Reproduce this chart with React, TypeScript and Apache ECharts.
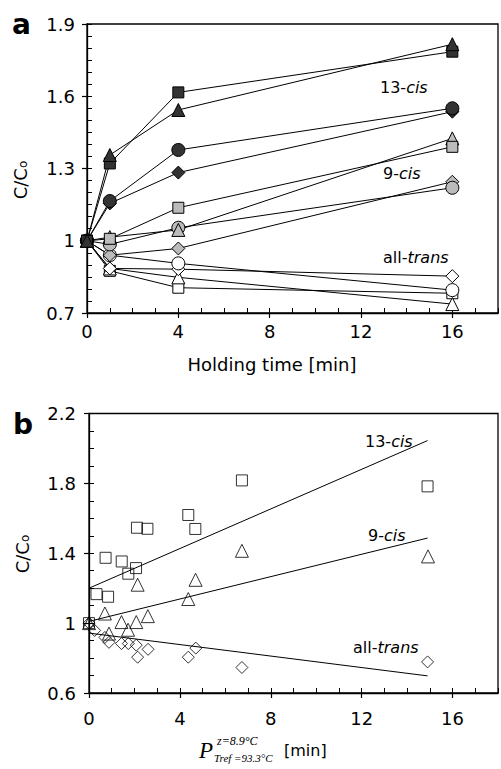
import React, { useEffect, useRef } from "react";
import * as echarts from "echarts";

// ---------- Panel a: C/Co vs holding time ----------
const timesA = [0, 1, 4, 16];
// 13-cis (dark markers)
const darkTriangle = [1, 1.356, 1.543, 1.816];
const darkSquare = [1, 1.321, 1.616, 1.785];
const darkCircle = [1, 1.165, 1.377, 1.55];
const darkDiamond = [1, 1.155, 1.283, 1.536];
// 9-cis (grey markers)
const greySquare = [1, 1.008, 1.137, 1.39];
const greyTriangle = [1, 1.015, 1.045, 1.425];
const greyCircle = [1, 0.985, 1.054, 1.22];
const greyDiamond = [1, 0.94, 0.968, 1.245];
// all-trans (white markers)
const whiteCircle = [1, 0.94, 0.906, 0.795];
const whiteDiamond = [1, 0.885, 0.882, 0.853];
const whiteTriangle = [1, 0.885, 0.848, 0.737];
const whiteSquare = [1, 0.875, 0.805, 0.782];

const xTicksA = [0, 18, 4];
const yTicksA = [0.7, 1.9, 0.3];

// ---------- Panel b: C/Co vs equivalent time ----------
const sqX = [0, 0.33, 0.84, 0.73, 1.44, 1.73, 2.07, 2.11, 2.57, 4.37, 4.68, 6.73, 14.9];
const sqY = [1.0, 1.166, 1.151, 1.374, 1.353, 1.283, 1.315, 1.546, 1.54, 1.619, 1.539, 1.817, 1.783];
const triX = [0, 0.7, 0.88, 1.43, 1.72, 2.08, 2.14, 2.59, 4.37, 4.69, 6.73, 14.92];
const triY = [1.0, 1.055, 0.94, 1.006, 0.962, 1.006, 1.22, 1.04, 1.138, 1.248, 1.414, 1.382];
const diaX = [0, 0.25, 0.7, 0.88, 1.43, 1.73, 2.08, 2.14, 2.6, 4.37, 4.7, 6.73, 14.9];
const diaY = [1.0, 0.958, 0.918, 0.89, 0.883, 0.883, 0.874, 0.805, 0.85, 0.805, 0.857, 0.746, 0.778];
const fit13 = [[0, 1.2], [14.9, 2.045]];
const fit9 = [[0, 1.01], [14.9, 1.487]];
const fitTrans = [[0, 0.943], [14.9, 0.698]];

const xTicksB = [0, 18, 4];
const yTicksB = [0.6, 2.2, 0.4];

const SANS = "'DejaVu Sans', sans-serif";
const SERIF = "'Liberation Serif', 'DejaVu Serif', serif";
const DARK = "#333333";
const GREY = "#bbbbbb";

function zip(xs: number[], ys: number[]) {
  return xs.map((x, i) => [x, ys[i]]);
}

function lineSeries(ys: number[], symbol: string, size: number, fill: string) {
  return {
    type: "line",
    xAxisIndex: 0,
    yAxisIndex: 0,
    data: zip(timesA, ys),
    symbol,
    symbolSize: size,
    showAllSymbol: true,
    lineStyle: { color: "#000", width: 1 },
    itemStyle: { color: fill, borderColor: "#000", borderWidth: 1 },
    emphasis: { disabled: true },
    silent: true,
    z: 3,
  };
}

function scatterSeries(xs: number[], ys: number[], symbol: string, size: number) {
  return {
    type: "scatter",
    xAxisIndex: 2,
    yAxisIndex: 2,
    data: zip(xs, ys),
    symbol,
    symbolSize: size,
    itemStyle: { color: "rgba(255,255,255,0)", borderColor: "#000", borderWidth: 1 },
    silent: true,
    z: 3,
  };
}

function fitSeries(pts: number[][]) {
  return {
    type: "line",
    xAxisIndex: 2,
    yAxisIndex: 2,
    data: pts,
    symbol: "none",
    lineStyle: { color: "#000", width: 1 },
    silent: true,
    z: 2,
  };
}

function mainAxis(ticks: number[], grid: number, pos: string, margin: number) {
  return {
    type: "value",
    gridIndex: grid,
    position: pos,
    min: ticks[0],
    max: ticks[1],
    interval: ticks[2],
    axisLine: { show: true, onZero: false, lineStyle: { color: "#000", width: 1.3 } },
    axisTick: { show: true, inside: false, length: 5, lineStyle: { color: "#000", width: 1.2 } },
    axisLabel: {
      show: true,
      showMaxLabel: pos === "left",
      margin,
      color: "#000",
      fontSize: 18,
      fontFamily: SANS,
    },
    splitLine: { show: false },
  };
}

function minorAxis(ticks: number[], step: number, grid: number, pos: string) {
  return {
    type: "value",
    gridIndex: grid,
    position: pos,
    min: ticks[0],
    max: ticks[1],
    interval: step,
    axisLine: { show: false, onZero: false },
    axisTick: { show: true, inside: true, length: 5, lineStyle: { color: "#000", width: 1 } },
    axisLabel: { show: false },
    splitLine: { show: false },
  };
}

function richLabel(x: number, y: number, pre: string, it: string) {
  return {
    type: "text",
    x,
    y,
    silent: true,
    style: {
      text: pre + "{i|" + it + "}",
      fontSize: 16,
      fontFamily: SANS,
      fill: "#000",
      verticalAlign: "middle",
      rich: { i: { fontStyle: "italic", fontSize: 16, fontFamily: SANS, fill: "#000" } },
    },
  };
}

function yTitle(x: number, y: number) {
  return {
    type: "text",
    x,
    y,
    rotation: Math.PI / 2,
    silent: true,
    style: {
      text: "{m|C/C}{s|o}",
      align: "center",
      verticalAlign: "middle",
      fill: "#000",
      rich: {
        m: { fontSize: 18, fontFamily: SANS, lineHeight: 22, verticalAlign: "bottom", fill: "#000" },
        s: { fontSize: 12, fontFamily: SANS, lineHeight: 12, verticalAlign: "bottom", fill: "#000" },
      },
    },
  };
}

export default function App() {
  const ref = useRef<HTMLDivElement>(null);
  useEffect(() => {
    if (!ref.current) return;
    const chart = echarts.init(ref.current, undefined, { renderer: "svg" });
    const option: any = {
      animation: false,
      backgroundColor: "#fff",
      grid: [
        { left: 87, top: 24, right: 3, bottom: 456, show: true, borderColor: "#000", borderWidth: 1.3, backgroundColor: "transparent" },
        { left: 89, top: 413.5, right: 3, bottom: 76, show: true, borderColor: "#000", borderWidth: 1.3, backgroundColor: "transparent" },
      ],
      xAxis: [
        mainAxis(xTicksA, 0, "bottom", 9),
        minorAxis(xTicksA, 1, 0, "bottom"),
        mainAxis(xTicksB, 1, "bottom", 16),
        minorAxis(xTicksB, 1, 1, "bottom"),
      ],
      yAxis: [
        mainAxis(yTicksA, 0, "left", 12),
        minorAxis(yTicksA, 0.05, 0, "left"),
        mainAxis(yTicksB, 1, "left", 13),
        minorAxis(yTicksB, 0.1, 1, "left"),
      ],
      series: [
        lineSeries(whiteSquare, "rect", 11, "#fff"),
        lineSeries(whiteTriangle, "triangle", 13, "#fff"),
        lineSeries(whiteDiamond, "diamond", 13, "#fff"),
        lineSeries(whiteCircle, "circle", 13, "#fff"),
        lineSeries(greyDiamond, "diamond", 13, GREY),
        lineSeries(greyCircle, "circle", 13, GREY),
        lineSeries(greyTriangle, "triangle", 13, GREY),
        lineSeries(greySquare, "rect", 11, GREY),
        lineSeries(darkDiamond, "diamond", 13, DARK),
        lineSeries(darkCircle, "circle", 13, DARK),
        lineSeries(darkSquare, "rect", 11, DARK),
        lineSeries(darkTriangle, "triangle", 13, DARK),
        fitSeries(fit13),
        fitSeries(fit9),
        fitSeries(fitTrans),
        scatterSeries(sqX, sqY, "rect", 11),
        scatterSeries(triX, triY, "triangle", 13),
        scatterSeries(diaX, diaY, "diamond", 12),
      ],
      graphic: [
        { type: "text", x: 12, y: 24, silent: true, style: { text: "a", fontSize: 28, fontWeight: "bold", fontFamily: SANS, fill: "#000", verticalAlign: "middle" } },
        { type: "text", x: 13, y: 424, silent: true, style: { text: "b", fontSize: 28, fontWeight: "bold", fontFamily: SANS, fill: "#000", verticalAlign: "middle" } },
        yTitle(18, 180),
        yTitle(20, 554),
        { type: "text", x: 272, y: 364, silent: true, style: { text: "Holding time [min]", fontSize: 18, fontFamily: SANS, fill: "#000", align: "center", verticalAlign: "middle" } },
        richLabel(380, 87, "13-", "cis"),
        richLabel(383, 173, "9-", "cis"),
        richLabel(383, 257, "all-", "trans"),
        richLabel(365, 441, "13-", "cis"),
        richLabel(368, 535, "9-", "cis"),
        richLabel(353, 647, "all-", "trans"),
        { type: "text", x: 199, y: 750, silent: true, style: { text: "P", fontSize: 23, fontStyle: "italic", fontFamily: SERIF, fill: "#000", verticalAlign: "middle" } },
        { type: "text", x: 217, y: 741, silent: true, style: { text: "z=8.9°C", fontSize: 12, fontStyle: "italic", fontFamily: SERIF, fill: "#000", verticalAlign: "middle" } },
        { type: "text", x: 214, y: 758, silent: true, style: { text: "Tref =93.3°C", fontSize: 11, fontStyle: "italic", fontFamily: SERIF, fill: "#000", verticalAlign: "middle" } },
        { type: "text", x: 284, y: 750, silent: true, style: { text: "[min]", fontSize: 16, fontFamily: SANS, fill: "#000", verticalAlign: "middle" } },
      ],
    };
    chart.setOption(option);
    return () => chart.dispose();
  }, []);
  return (
    <div
      ref={ref}
      style={{ position: "absolute", left: 0, top: 0, width: 501, height: 769, background: "#fff" }}
    />
  );
}
